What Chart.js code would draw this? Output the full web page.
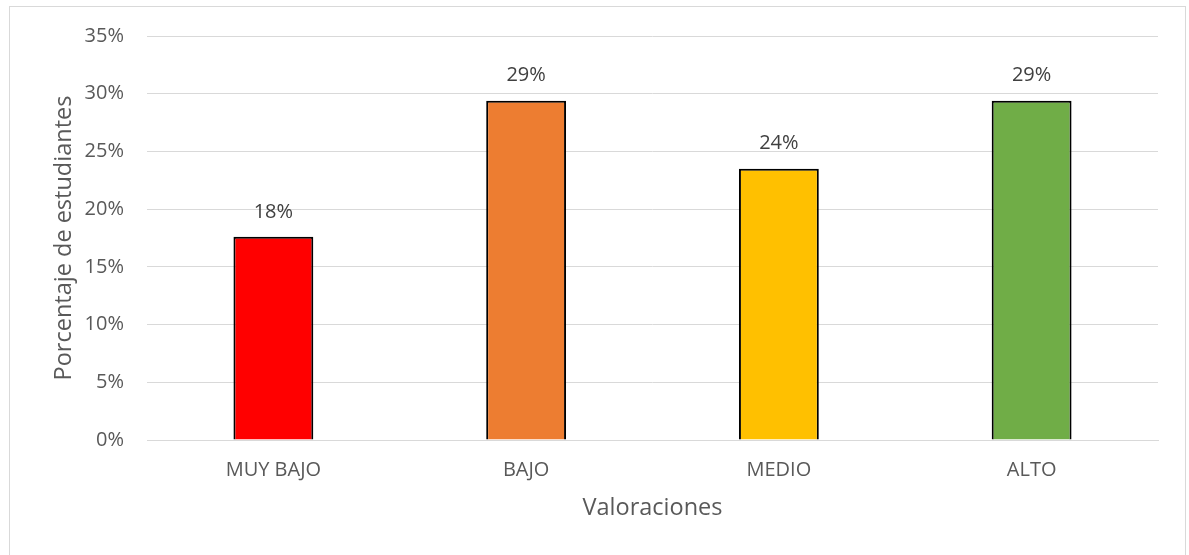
<!DOCTYPE html>
<html>
<head>
<meta charset="utf-8">
<script src="https://cdn.jsdelivr.net/npm/chart.js@4"></script>
<style>
  html, body { margin: 0; padding: 0; background: #fff; }
  #wrap { position: relative; width: 1189px; height: 555px; overflow: hidden; }
  #frame { position: absolute; left: 9px; top: 6px; width: 1177px; height: 560px; border: 1px solid #d9d9d9; box-sizing: border-box; }
  canvas { position: absolute; left: 0; top: 0; }
</style>
</head>
<body>
<div id="wrap">
  <div id="frame"></div>
  <canvas id="chart" width="1189" height="555"></canvas>
</div>
<script>
// Chart data
const categories = ['MUY BAJO', 'BAJO', 'MEDIO', 'ALTO'];
const percentages = [17.6, 29.4, 23.5, 29.4];
const barColors = ['#FF0000', '#ED7D31', '#FFC000', '#70AD47'];
const yTicks = [0, 5, 10, 15, 20, 25, 30, 35];

const FONT = '"Open Sans", Lato, sans-serif';
const TEXT = '#595959';

// Draw value labels above each bar
const valueLabels = {
  id: 'valueLabels',
  afterDatasetsDraw(chart) {
    const ctx = chart.ctx;
    const meta = chart.getDatasetMeta(0);
    ctx.save();
    ctx.font = '20px ' + FONT;
    ctx.fillStyle = '#404040';
    ctx.textAlign = 'center';
    ctx.textBaseline = 'middle';
    meta.data.forEach((bar, i) => {
      const v = chart.data.datasets[0].data[i];
      ctx.fillText(Math.round(v) + '%', bar.x, bar.y - 25);
    });
    ctx.restore();
  }
};

new Chart(document.getElementById('chart'), {
  type: 'bar',
  data: {
    labels: categories,
    datasets: [{
      data: percentages,
      backgroundColor: barColors,
      borderColor: '#000000',
      borderWidth: 2,
      barPercentage: 0.316,
      categoryPercentage: 1
    }]
  },
  options: {
    responsive: false,
    animation: false,
    layout: { padding: { left: 50, right: 31, top: 36, bottom: 33 } },
    plugins: {
      legend: { display: false },
      tooltip: { enabled: false }
    },
    scales: {
      x: {
        grid: { display: false, drawTicks: false },
        border: { display: true, color: '#d9d9d9', width: 1 },
        ticks: { color: TEXT, font: { family: FONT, size: 20 }, padding: 18 },
        title: { display: true, text: 'Valoraciones', color: TEXT, font: { family: FONT, size: 23.5 }, padding: 0 },
        afterFit(scale) { scale.height = 82; }
      },
      y: {
        min: 0,
        max: 35,
        afterBuildTicks(scale) { scale.ticks = yTicks.map(v => ({ value: v })); },
        grid: { color: '#d9d9d9', lineWidth: 1, drawTicks: false },
        border: { display: false },
        ticks: { color: TEXT, font: { family: FONT, size: 20 }, padding: 23, callback: v => v + '%' },
        title: { display: true, text: 'Porcentaje de estudiantes', color: TEXT, font: { family: FONT, size: 23.5 }, padding: 0 },
        afterFit(scale) { scale.width = 97; }
      }
    }
  },
  plugins: [valueLabels]
});
</script>
</body>
</html>
